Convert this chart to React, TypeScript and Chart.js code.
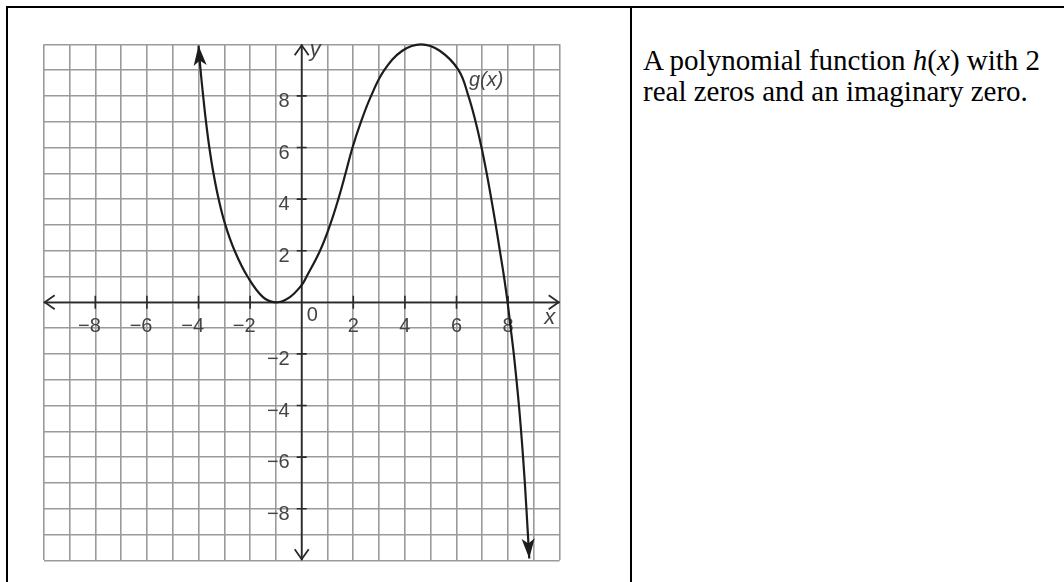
import React, { useEffect, useRef } from 'react';
import { Chart, registerables } from 'chart.js';

Chart.register(...registerables);

// Curve g(x), points (left arrow tip ... right arrow tip)
const curveX = [-4.0, -3.92, -3.82, -3.71, -3.58, -3.42, -3.22, -2.96, -2.6, -2.1, -1.5, -1.0, -0.5, 0.0, 0.19, 0.71, 1.1, 1.42, 1.7, 1.97, 2.3, 2.69, 3.2, 3.9, 4.63, 5.35, 6.08, 6.46, 6.74, 6.97, 7.17, 7.35, 7.52, 7.68, 7.84, 7.98, 8.1, 8.22, 8.42, 8.58, 8.71, 8.82];
const curveY = [9.95, 9.0, 8.0, 7.0, 6.0, 5.0, 4.0, 3.0, 2.0, 1.0, 0.2, 0.0, 0.17, 0.67, 1.0, 2.0, 3.0, 4.0, 5.0, 6.0, 7.0, 8.0, 9.0, 9.75, 10.0, 9.75, 9.0, 8.0, 7.0, 6.0, 5.0, 4.0, 3.0, 2.0, 1.0, 0.0, -1.0, -2.0, -4.0, -6.0, -8.0, -9.93];

const axisMin = -10;
const axisMax = 10;
const xTickValues = [-8, -6, -4, -2, 2, 4, 6, 8];
const xTickLabels = ['\u22128', '\u22126', '\u22124', '\u22122', '2', '4', '6', '8'];
const yTickValues = [-8, -6, -4, -2, 2, 4, 6, 8];
const yTickLabels = ['\u22128', '\u22126', '\u22124', '\u22122', '2', '4', '6', '8'];
const originLabel = '0';
const curveLabel = 'g(x)';
const curveLabelAt = { x: 6.48, y: 8.38 };
const xAxisName = 'x';
const yAxisName = 'y';

const CANVAS_W = 620;
const CANVAS_H = 582;

const graphPlugin = {
  id: 'graphDecor',
  beforeDatasetsDraw(chart: any) {
    const { ctx } = chart;
    const xs = chart.scales.x;
    const ys = chart.scales.y;
    const x0 = xs.getPixelForValue(0);
    const y0 = ys.getPixelForValue(0);
    const L = xs.getPixelForValue(axisMin);
    const R = xs.getPixelForValue(axisMax);
    const T = ys.getPixelForValue(axisMax);
    const B = ys.getPixelForValue(axisMin);
    ctx.save();
    ctx.strokeStyle = '#2a2a2a';
    ctx.lineWidth = 1.8;
    ctx.lineJoin = 'miter';
    ctx.lineCap = 'butt';
    ctx.beginPath();
    ctx.moveTo(L, y0);
    ctx.lineTo(R, y0);
    ctx.moveTo(x0, T);
    ctx.lineTo(x0, B);
    ctx.stroke();
    const a = 11, s = 7;
    ctx.beginPath();
    ctx.moveTo(L + a, y0 - s); ctx.lineTo(L + 1, y0); ctx.lineTo(L + a, y0 + s);
    ctx.moveTo(R - a, y0 - s); ctx.lineTo(R - 1, y0); ctx.lineTo(R - a, y0 + s);
    ctx.moveTo(x0 - s, T + a); ctx.lineTo(x0, T + 1); ctx.lineTo(x0 + s, T + a);
    ctx.moveTo(x0 - s, B - a); ctx.lineTo(x0, B - 1); ctx.lineTo(x0 + s, B - a);
    ctx.stroke();
    ctx.lineWidth = 1.6;
    ctx.beginPath();
    xTickValues.forEach((v) => {
      const px = xs.getPixelForValue(v);
      ctx.moveTo(px, y0 - 6.5);
      ctx.lineTo(px, y0 + 6.5);
    });
    yTickValues.forEach((v) => {
      const py = ys.getPixelForValue(v);
      ctx.moveTo(x0 - 5, py);
      ctx.lineTo(x0 + 5, py);
    });
    ctx.stroke();

    ctx.fillStyle = '#444';
    ctx.font = '20px "Liberation Sans", Arial, sans-serif';
    ctx.textBaseline = 'alphabetic';
    const digitW = ctx.measureText('8').width;
    ctx.textAlign = 'right';
    xTickValues.forEach((v, i) => {
      const px = xs.getPixelForValue(v);
      ctx.fillText(xTickLabels[i], px + digitW / 2, y0 + 30);
    });
    yTickValues.forEach((v, i) => {
      const py = ys.getPixelForValue(v);
      ctx.fillText(yTickLabels[i], x0 - 12, py + 11);
    });
    ctx.textAlign = 'left';
    ctx.fillText(originLabel, x0 + 5, y0 + 19);

    ctx.font = 'italic 22px "Liberation Sans", Arial, sans-serif';
    ctx.textAlign = 'center';
    ctx.fillText(xAxisName, R - 10, y0 + 22);
    ctx.textAlign = 'left';
    ctx.fillText(yAxisName, x0 + 8, T + 12);

    ctx.font = 'italic 20px "Liberation Sans", Arial, sans-serif';
    ctx.fillText(curveLabel, xs.getPixelForValue(curveLabelAt.x), ys.getPixelForValue(curveLabelAt.y));
    ctx.restore();
  },
  afterDatasetsDraw(chart: any) {
    const { ctx } = chart;
    const xs = chart.scales.x;
    const ys = chart.scales.y;
    const n = curveX.length;
    const head = (ti: number, fi: number) => {
      const tx = xs.getPixelForValue(curveX[ti]);
      const ty = ys.getPixelForValue(curveY[ti]);
      const fx = xs.getPixelForValue(curveX[fi]);
      const fy = ys.getPixelForValue(curveY[fi]);
      const ang = Math.atan2(ty - fy, tx - fx);
      const len = 20, hw = 6.5, notch = 15;
      const ux = Math.cos(ang), uy = Math.sin(ang);
      const nx = -uy, ny = ux;
      ctx.beginPath();
      ctx.moveTo(tx, ty);
      ctx.lineTo(tx - ux * len + nx * hw, ty - uy * len + ny * hw);
      ctx.lineTo(tx - ux * notch, ty - uy * notch);
      ctx.lineTo(tx - ux * len - nx * hw, ty - uy * len - ny * hw);
      ctx.closePath();
      ctx.fill();
    };
    ctx.save();
    ctx.fillStyle = '#1c1c1c';
    head(0, 1);
    head(n - 1, n - 2);
    ctx.restore();
  },
};

function GraphCanvas() {
  const ref = useRef<HTMLCanvasElement | null>(null);
  useEffect(() => {
    if (!ref.current) return;
    const chart = new Chart(ref.current, {
      type: 'line',
      data: {
        datasets: [
          {
            data: curveX.map((x, i) => ({ x, y: curveY[i] })),
            borderColor: '#1c1c1c',
            borderWidth: 2.2,
            pointRadius: 0,
            fill: false,
            tension: 0.4,
            clip: false as any,
          },
        ],
      },
      options: {
        responsive: false,
        animation: false,
        devicePixelRatio: 1,
        events: [],
        layout: { padding: { left: 43.7, right: CANVAS_W - 559.7, top: 44.3, bottom: CANVAS_H - 560.3 } },
        plugins: { legend: { display: false }, tooltip: { enabled: false }, title: { display: false } },
        scales: {
          x: {
            type: 'linear',
            min: axisMin,
            max: axisMax,
            ticks: { stepSize: 1, display: false },
            grid: { color: '#9a9a9a', lineWidth: 1.6, drawTicks: false },
            border: { display: false },
            afterFit: (s: any) => { s.height = 0; },
          },
          y: {
            type: 'linear',
            min: axisMin,
            max: axisMax,
            ticks: { stepSize: 1, display: false },
            grid: { color: '#9a9a9a', lineWidth: 1.6, drawTicks: false },
            border: { display: false },
            afterFit: (s: any) => { s.width = 0; },
          },
        },
      } as any,
      plugins: [graphPlugin],
    });
    return () => chart.destroy();
  }, []);
  return (
    <canvas
      ref={ref}
      width={CANVAS_W}
      height={CANVAS_H}
      style={{ position: 'absolute', left: 0, top: 0, width: CANVAS_W, height: CANVAS_H }}
    />
  );
}

export default function App() {
  return (
    <div style={{ position: 'absolute', left: 0, top: 0, width: 1064, height: 582, overflow: 'hidden', background: '#fff' }}>
      <GraphCanvas />
      <div style={{ position: 'absolute', left: 6, top: 6, width: 1058, height: 2, background: '#000' }} />
      <div style={{ position: 'absolute', left: 6, top: 6, width: 2, height: 576, background: '#000' }} />
      <div style={{ position: 'absolute', left: 630, top: 6, width: 2, height: 576, background: '#000' }} />
      <div
        style={{
          position: 'absolute',
          left: 643,
          top: 45,
          fontFamily: '"Liberation Serif", "Times New Roman", serif',
          fontSize: 29,
          lineHeight: '31px',
          color: '#000',
          whiteSpace: 'nowrap',
        }}
      >
        A polynomial function <i>h</i>(<i>x</i>) with 2
        <br />
        real zeros and an imaginary zero.
      </div>
    </div>
  );
}
